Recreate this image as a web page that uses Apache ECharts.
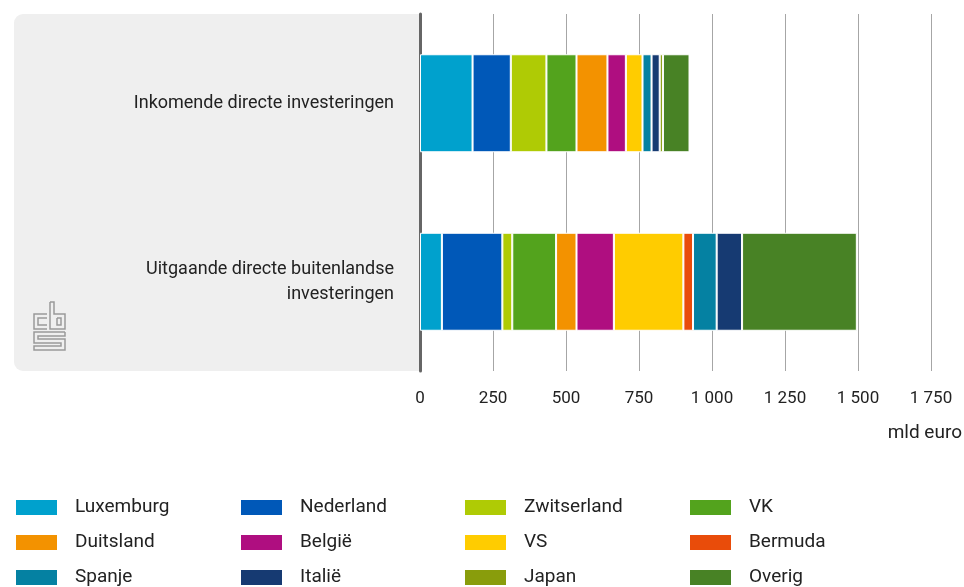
<!DOCTYPE html>
<html>
<head>
<meta charset="utf-8">
<script src="https://cdn.jsdelivr.net/npm/echarts@6/dist/echarts.min.js"></script>
<style>
  html, body { margin: 0; padding: 0; background: #fff; }
  #chart { width: 964px; height: 587px; }
</style>
</head>
<body>
<div id="chart"></div>
<script>
// categorieen
var categories = ['Inkomende directe investeringen', 'Uitgaande directe buitenlandse\ninvesteringen'];

// landen (volgorde van stapelen)
var landen = ['Luxemburg', 'Nederland', 'Zwitserland', 'VK', 'Duitsland', 'België', 'VS', 'Bermuda', 'Spanje', 'Italië', 'Japan', 'Overig'];
var kleuren = ['#00A1CD', '#0058B8', '#AFCB05', '#53A31D', '#F39200', '#AF0E80', '#FFCC00', '#E94C0A', '#0581A2', '#163A72', '#899D0C', '#488225'];

// mld euro: [inkomend, uitgaand]
var luxemburg   = [180, 75];
var nederland   = [131, 207];
var zwitserland = [122, 34];
var vk          = [103, 150];
var duitsland   = [106, 70];
var belgie      = [63, 128];
var vs          = [57, 238];
var bermuda     = [0, 33];
var spanje      = [31, 81];
var italie      = [28, 87];
var japan       = [11, 0];
var overig      = [91, 393];

var waarden = [luxemburg, nederland, zwitserland, vk, duitsland, belgie, vs, bermuda, spanje, italie, japan, overig];

// legenda kolommen
var legendaKolommen = [
	['Luxemburg', 'Duitsland', 'Spanje'],
	['Nederland', 'België', 'Italië'],
	['Zwitserland', 'VS', 'Japan'],
	['VK', 'Bermuda', 'Overig']
];
var legendaLinks = [14, 239, 463, 688];

var font = 'Roboto';

var chart = echarts.init(document.getElementById('chart'));

var series = landen.map(function(naam, i) {
	return {
		name: naam,
		type: 'bar',
		stack: 'totaal',
		barWidth: 98,
		data: waarden[i],
		itemStyle: {
			color: kleuren[i],
			borderColor: '#fff',
			borderWidth: 1
		},
		emphasis: { disabled: true }
	};
});

var legends = legendaKolommen.map(function(kolom, i) {
	return {
		orient: 'vertical',
		left: legendaLinks[i],
		top: 498,
		height: 120,
		width: 220,
		padding: 0,
		itemWidth: 43,
		itemHeight: 17,
		itemGap: 16,
		icon: 'rect',
		selectedMode: false,
		data: kolom,
		textStyle: {
			fontFamily: font,
			fontSize: 19,
			lineHeight: 17,
			color: '#222',
			padding: [0, 0, 0, 12]
		}
	};
});

// cbs logo (eenvoudige lijntjes)
function logo(x, y) {
	var s = { stroke: '#9a9a9a', lineWidth: 1.5, fill: null };
	var lijnen = [
		// c
		[[47, 12], [34, 12], [34, 27], [47, 27]],
		[[47, 16], [38, 16], [38, 23], [47, 23]],
		// b
		[[50, 0], [50, 27], [65, 27], [65, 12], [54, 12], [54, 0], [50, 0]],
		[[57, 16], [61, 16], [61, 23], [57, 23], [57, 16]],
		// s
		[[65, 30], [34, 30], [34, 41], [61, 41], [61, 44], [34, 44], [34, 48], [65, 48], [65, 37], [38, 37], [38, 34], [65, 34], [65, 30]]
	];
	return lijnen.map(function(p) {
		return {
			type: 'polyline',
			z: -1,
			shape: { points: p.map(function(q) { return [q[0] + x - 34, q[1] + y]; }) },
			style: s
		};
	});
}

var graphics = [{
	type: 'rect',
	z: -2,
	shape: { x: 14, y: 14, width: 405, height: 357, r: [9, 0, 0, 9] },
	style: { fill: '#efefef' }
}, {
	type: 'text',
	right: 2,
	top: 424,
	style: {
		text: 'mld euro',
		fontFamily: font,
		fontSize: 19,
		fill: '#222'
	}
}].concat(logo(34, 302));

var option = {
	animation: false,
	grid: {
		left: 420,
		right: 33,
		top: 14,
		bottom: 216
	},
	legend: legends,
	graphic: graphics,
	xAxis: {
		type: 'value',
		min: 0,
		max: 1750,
		interval: 250,
		axisLine: { show: false },
		axisTick: { show: false },
		splitLine: {
			lineStyle: { color: '#a6a6a6', width: 1 }
		},
		axisLabel: {
			margin: 19,
			fontFamily: font,
			fontSize: 17,
			color: '#222',
			formatter: function(v) {
				return String(v).replace(/\B(?=(\d{3})+(?!\d))/g, ' ');
			}
		}
	},
	yAxis: {
		type: 'category',
		inverse: true,
		data: categories,
		axisTick: { show: false },
		axisLine: {
			lineStyle: { color: '#666', width: 3 }
		},
		axisLabel: {
			margin: 26,
			fontFamily: font,
			fontSize: 18,
			lineHeight: 25,
			color: '#222',
			align: 'right',
			padding: [12, 0, 0, 0]
		}
	},
	series: series
};

chart.setOption(option);
</script>
</body>
</html>
